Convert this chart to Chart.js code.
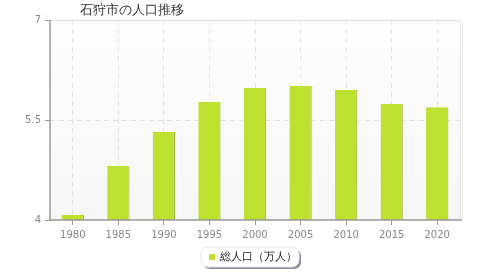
<!DOCTYPE html>
<html>
<head>
<meta charset="utf-8">
<script src="https://cdn.jsdelivr.net/npm/chart.js@4"></script>
<style>
  html, body { margin: 0; padding: 0; background: #fff; }
  #wrap { width: 480px; height: 280px; }
</style>
</head>
<body>
<div id="wrap"><canvas id="chart" width="480" height="280"></canvas></div>
<script>
// Data
const chartTitle = '石狩市の人口推移';
const seriesLabel = '総人口（万人）';
const years = ['1980', '1985', '1990', '1995', '2000', '2005', '2010', '2015', '2020'];
const population = [4.08, 4.81, 5.32, 5.77, 5.98, 6.01, 5.95, 5.74, 5.69];
const yTicks = [4, 5.5, 7];

const BAR_COLOR = '#bce12f';
const FONT = '"DejaVu Sans", sans-serif';

// Plot background, borders, title and legend box
const decorations = {
    id: 'decorations',
    beforeDraw(chart) {
        const { ctx, chartArea: a } = chart;
        ctx.save();
        const grad = ctx.createLinearGradient(0, a.top, 0, a.bottom);
        grad.addColorStop(0, '#fefefe');
        grad.addColorStop(1, '#f6f6f6');
        ctx.fillStyle = grad;
        ctx.fillRect(a.left, a.top, a.right - a.left, a.bottom - a.top);
        ctx.strokeStyle = '#e2e2e2';
        ctx.lineWidth = 1;
        ctx.beginPath();
        ctx.moveTo(a.left, a.top + 0.5);
        ctx.lineTo(a.right + 0.5, a.top + 0.5);
        ctx.lineTo(a.right + 0.5, a.bottom);
        ctx.stroke();
        ctx.strokeStyle = '#ececec';
        ctx.beginPath();
        ctx.moveTo(a.right + 2.5, a.top + 2);
        ctx.lineTo(a.right + 2.5, a.bottom);
        ctx.stroke();
        ctx.restore();
    },
    afterDraw(chart) {
        const { ctx, chartArea: a } = chart;
        ctx.save();
        // axis lines
        ctx.strokeStyle = '#999';
        ctx.lineWidth = 1.5;
        ctx.beginPath();
        ctx.moveTo(a.left, a.top);
        ctx.lineTo(a.left, a.bottom);
        ctx.lineTo(a.right + 2, a.bottom);
        ctx.stroke();

        // title
        ctx.fillStyle = '#333';
        ctx.font = '13px ' + FONT;
        ctx.textBaseline = 'middle';
        ctx.textAlign = 'left';
        ctx.fillText(chartTitle, 80, 11);

        // legend
        const bx = 201, by = 247, bw = 98, bh = 20, r = 7;
        const box = (x, y) => {
            ctx.beginPath();
            ctx.roundRect(x, y, bw, bh, r);
        };
        ctx.fillStyle = '#8a8a9a';
        box(bx + 2, by + 2);
        ctx.fill();
        ctx.fillStyle = '#fff';
        box(bx, by);
        ctx.fill();
        ctx.strokeStyle = '#e4e4e4';
        ctx.lineWidth = 1;
        ctx.stroke();
        ctx.fillStyle = chart.data.datasets[0].backgroundColor;
        ctx.fillRect(bx + 8, by + 7, 6, 6);
        ctx.fillStyle = '#222';
        ctx.font = '11px ' + FONT;
        ctx.fillText(chart.data.datasets[0].label, bx + 19, by + 10.5);
        ctx.restore();
    }
};

const ctx = document.getElementById('chart').getContext('2d');
new Chart(ctx, {
    type: 'bar',
    data: {
        labels: years,
        datasets: [{
            label: seriesLabel,
            data: population,
            backgroundColor: BAR_COLOR,
            borderColor: '#9fb13a',
            borderWidth: { top: 0, left: 0, bottom: 0, right: 1 },
            borderSkipped: false,
            barPercentage: 0.49,
            categoryPercentage: 1.0
        }]
    },
    options: {
        responsive: false,
        animation: false,
        layout: { padding: { top: 20, right: 20, left: 0, bottom: 0 } },
        plugins: {
            legend: { display: false },
            title: { display: false },
            tooltip: { enabled: false }
        },
        scales: {
            x: {
                offset: true,
                grid: {
                    offset: false,
                    color: '#e2e2e2',
                    tickColor: '#999',
                    tickLength: 5,
                    drawOnChartArea: true
                },
                border: { display: false, dash: [5, 4] },
                ticks: {
                    color: '#888',
                    font: { family: FONT, size: 10 },
                    padding: 4,
                    maxRotation: 0
                },
                afterFit(scale) { scale.height = 60; }
            },
            y: {
                min: 4,
                max: 7,
                afterBuildTicks(scale) {
                    scale.ticks = yTicks.map(v => ({ value: v }));
                },
                grid: {
                    color: (c) => (c.tick && c.tick.value === 5.5 ? '#e2e2e2' : 'rgba(0,0,0,0)'),
                    tickColor: '#999',
                    tickLength: 5
                },
                border: { display: false, dash: [5, 4] },
                ticks: {
                    color: '#888',
                    font: { family: FONT, size: 10 },
                    padding: 4
                },
                afterFit(scale) { scale.width = 50; }
            }
        }
    },
    plugins: [decorations]
});
</script>
</body>
</html>
